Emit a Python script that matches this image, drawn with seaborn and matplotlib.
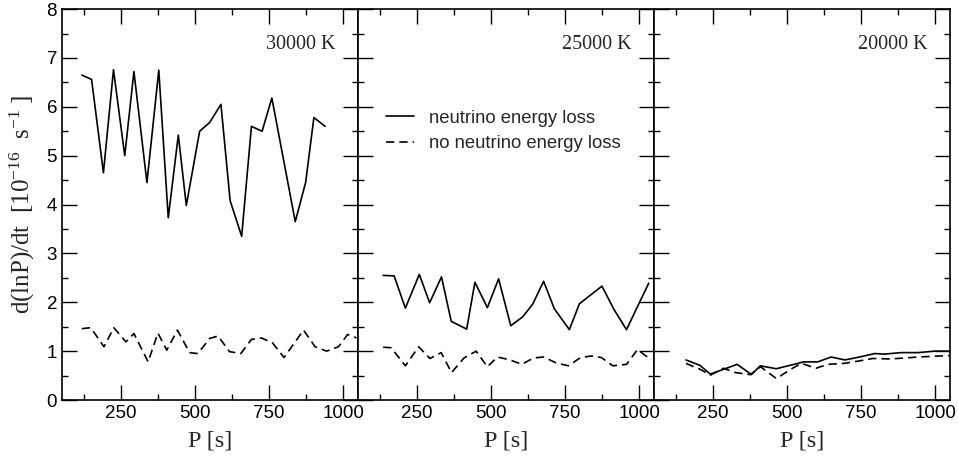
import numpy as np
import pandas as pd
import seaborn as sns
import matplotlib.pyplot as plt
from matplotlib.ticker import MultipleLocator

# ---- data (P in s, d(lnP)/dt in 1e-16 s^-1) ----
p_30k_nu = [117, 150, 190, 224, 262, 293, 337, 377, 409, 443, 470, 515, 549, 587,
            618, 657, 690, 726, 759, 838, 873, 901, 939]
v_30k_nu = [6.65, 6.56, 4.65, 6.76, 5.00, 6.72, 4.45, 6.75, 3.73, 5.42, 3.98, 5.50,
            5.68, 6.05, 4.08, 3.35, 5.60, 5.50, 6.18, 3.65, 4.45, 5.78, 5.60]
p_30k_no = [117, 147, 192, 225, 266, 293, 341, 374, 404, 440, 481, 509, 549, 577,
            616, 654, 690, 724, 761, 800, 866, 905, 944, 984, 1015, 1045]
v_30k_no = [1.46, 1.48, 1.09, 1.48, 1.19, 1.36, 0.78, 1.37, 1.02, 1.43, 0.97, 0.95,
            1.26, 1.31, 0.99, 0.95, 1.24, 1.27, 1.17, 0.87, 1.43, 1.09, 1.00, 1.09,
            1.34, 1.27]

p_25k_nu = [135, 172, 210, 257, 292, 332, 365, 417, 445, 487, 525, 566, 606, 640,
            677, 713, 764, 798, 874, 915, 957, 1032]
v_25k_nu = [2.55, 2.54, 1.88, 2.57, 1.99, 2.52, 1.61, 1.45, 2.41, 1.89, 2.48, 1.52,
            1.70, 1.96, 2.43, 1.87, 1.44, 1.97, 2.33, 1.85, 1.44, 2.39]
p_25k_no = [135, 162, 210, 255, 293, 331, 366, 408, 449, 487, 521, 564, 603, 643,
            677, 719, 761, 802, 838, 872, 911, 957, 994, 1041]
v_25k_no = [1.08, 1.07, 0.70, 1.09, 0.85, 0.97, 0.56, 0.86, 1.00, 0.68, 0.88, 0.82,
            0.73, 0.86, 0.88, 0.76, 0.70, 0.87, 0.90, 0.87, 0.70, 0.73, 1.03, 0.82]

p_20k_nu = [158, 205, 240, 331, 379, 409, 463, 530, 555, 603, 648, 695, 744, 795,
            830, 885, 942, 998, 1049]
v_20k_nu = [0.82, 0.71, 0.53, 0.73, 0.52, 0.70, 0.64, 0.74, 0.78, 0.78, 0.88, 0.82,
            0.88, 0.95, 0.94, 0.97, 0.97, 1.00, 1.00]
p_20k_no = [158, 205, 241, 284, 326, 375, 410, 463, 518, 548, 597, 637, 693, 743,
            789, 850, 942, 1049]
v_20k_no = [0.75, 0.63, 0.51, 0.65, 0.56, 0.52, 0.68, 0.44, 0.65, 0.75, 0.65, 0.73,
            0.75, 0.80, 0.85, 0.84, 0.88, 0.91]

temperatures = ["30000 K", "25000 K", "20000 K"]
series_nu = [(p_30k_nu, v_30k_nu), (p_25k_nu, v_25k_nu), (p_20k_nu, v_20k_nu)]
series_no = [(p_30k_no, v_30k_no), (p_25k_no, v_25k_no), (p_20k_no, v_20k_no)]
label_nu = "neutrino energy loss"
label_no = "no neutrino energy loss"

##################################
# Plotting
##################################
sns.set_theme(style="ticks")
plt.rcParams["font.family"] = ["Liberation Sans", "DejaVu Sans"]
plt.rcParams["mathtext.fontset"] = "custom"
plt.rcParams["mathtext.rm"] = "Liberation Serif"
plt.rcParams["mathtext.it"] = "Liberation Serif:italic"

SERIF = ["Liberation Serif", "DejaVu Serif"]

f = plt.figure(figsize=(9.58, 4.61), dpi=100)
left, bottom, width, height = 0.0647, 0.1323, 0.309, 0.848
axs = [f.add_axes([left + i * width, bottom, width, height]) for i in range(3)]

for i, ax in enumerate(axs):
    df_nu = pd.DataFrame({"P": series_nu[i][0], "rate": series_nu[i][1]})
    df_no = pd.DataFrame({"P": series_no[i][0], "rate": series_no[i][1]})
    sns.lineplot(data=df_nu, x="P", y="rate", ax=ax, color="black", lw=1.2,
                 label=label_nu, legend=False)
    sns.lineplot(data=df_no, x="P", y="rate", ax=ax, color="black", lw=1.2,
                 dashes=False, label=label_no, legend=False)
    ax.lines[-1].set_dashes((5, 3))

    ax.set_xlim(50, 1050)
    ax.set_ylim(0, 8)
    ax.xaxis.set_major_locator(MultipleLocator(250))
    ax.xaxis.set_minor_locator(MultipleLocator(125))
    ax.yaxis.set_major_locator(MultipleLocator(1))
    ax.yaxis.set_minor_locator(MultipleLocator(0.5))
    ax.tick_params(which="both", direction="in", top=True, right=True,
                   width=1.0, colors="black", labelsize=13.5)
    ax.tick_params(which="major", length=10.5)
    ax.tick_params(which="minor", length=4.5)
    for s in ax.spines.values():
        s.set_linewidth(1.2)
        s.set_color("black")
    ax.set_xlabel("P [s]", family=SERIF, fontsize=17.5, labelpad=6)
    ax.set_ylabel("")
    if i > 0:
        ax.tick_params(labelleft=False)
    ax.text(0.925, 0.91, temperatures[i], transform=ax.transAxes, ha="right",
            va="center", family=SERIF, fontsize=14.5)

axs[0].set_ylabel(r"d(lnP)/dt  [10$^{-16}$  s$^{-1}$ ]", family=SERIF, fontsize=18,
                  labelpad=7)

axs[1].legend(loc="upper left", bbox_to_anchor=(0.04, 0.785), frameon=False,
              fontsize=13.3, handlelength=1.5, handletextpad=0.8, labelspacing=0.45)

plt.savefig("out.png", dpi=100)
